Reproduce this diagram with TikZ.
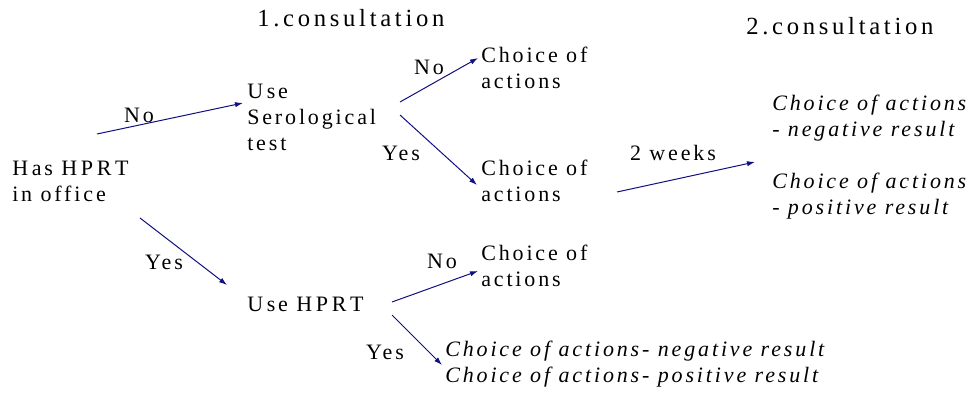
\documentclass[tikz,border=0pt]{standalone}
\usepackage{fontspec}
\setmainfont{Liberation Serif}[LetterSpace=13]
\newfontfamily\headfont{Liberation Serif}[LetterSpace=15]
\usetikzlibrary{arrows.meta}
\definecolor{navyline}{RGB}{16,16,128}
\begin{document}
\begin{tikzpicture}[x=0.75pt,y=-0.75pt,
  txt/.style={anchor=west,inner sep=0pt,align=left,font=\fontsize{16.5}{19.5}\selectfont},
  itx/.style={txt,font=\fontsize{16.5}{19.5}\selectfont\itshape},
  head/.style={anchor=west,inner sep=0pt,font=\headfont\fontsize{18.5}{22}\selectfont},
  lbl/.style={inner sep=0pt,font=\fontsize{16.5}{19.5}\selectfont},
  arr/.style={draw=navyline,line width=0.75pt,-{Latex[length=6pt,width=4pt]}}]
\useasboundingbox (0,0) rectangle (976,396);
% headers
\node[head] (c1) at (257,21) {\strut 1.consultation\strut};
\node[head] (c2) at (746,29) {\strut 2.consultation\strut};
% nodes
\node[txt] (has) at (12,183) {\strut H\,as H\,P\,R\,T\\in office\strut};
\node[txt] (sero) at (247,119) {\strut U\,se\\Serological\\test\strut};
\node[txt] (ch1) at (481,70) {\strut Choice of\\actions\strut};
\node[txt] (ch2) at (481,183) {\strut Choice of\\actions\strut};
\node[itx] (rt1) at (772,118) {\strut Choice of actions\\- negative result\strut};
\node[itx] (rt2) at (772,196.5) {\strut Choice of actions\\- positive result\strut};
\node[txt] (hprt) at (247,306) {\strut U\,se H\,P\,R\,T\strut};
\node[txt] (ch3) at (481,268.5) {\strut Choice of\\actions\strut};
\node[itx] (bot) at (445,364.5) {\strut Choice of actions- negative result\\Choice of actions- positive result\strut};
% labels
\node[lbl] (no1) at (139,115) {No};
\node[lbl] (no2) at (429,67) {No};
\node[lbl] (yes1) at (401,153) {Yes};
\node[lbl] (wk) at (673,153) {2 weeks};
\node[lbl] (yes2) at (164,262) {Yes};
\node[lbl] (no3) at (442,261) {No};
\node[lbl] (yes3) at (385,352) {Yes};
% connector end points
\coordinate (a1) at (97,134);  \coordinate (a2) at (243,103);
\coordinate (b1) at (400,102); \coordinate (b2) at (478,58);
\coordinate (c1s) at (400,115); \coordinate (c2e) at (477,185);
\coordinate (d1) at (617,192); \coordinate (d2) at (755,162);
\coordinate (e1) at (140,218); \coordinate (e2) at (227,285);
\coordinate (f1) at (392,302); \coordinate (f2) at (478,271);
\coordinate (g1) at (392,315); \coordinate (g2) at (442,365);
\draw[arr] (a1) -- (a2);
\draw[arr] (b1) -- (b2);
\draw[arr] (c1s) -- (c2e);
\draw[arr] (d1) -- (d2);
\draw[arr] (e1) -- (e2);
\draw[arr] (f1) -- (f2);
\draw[arr] (g1) -- (g2);
\end{tikzpicture}
\end{document}
